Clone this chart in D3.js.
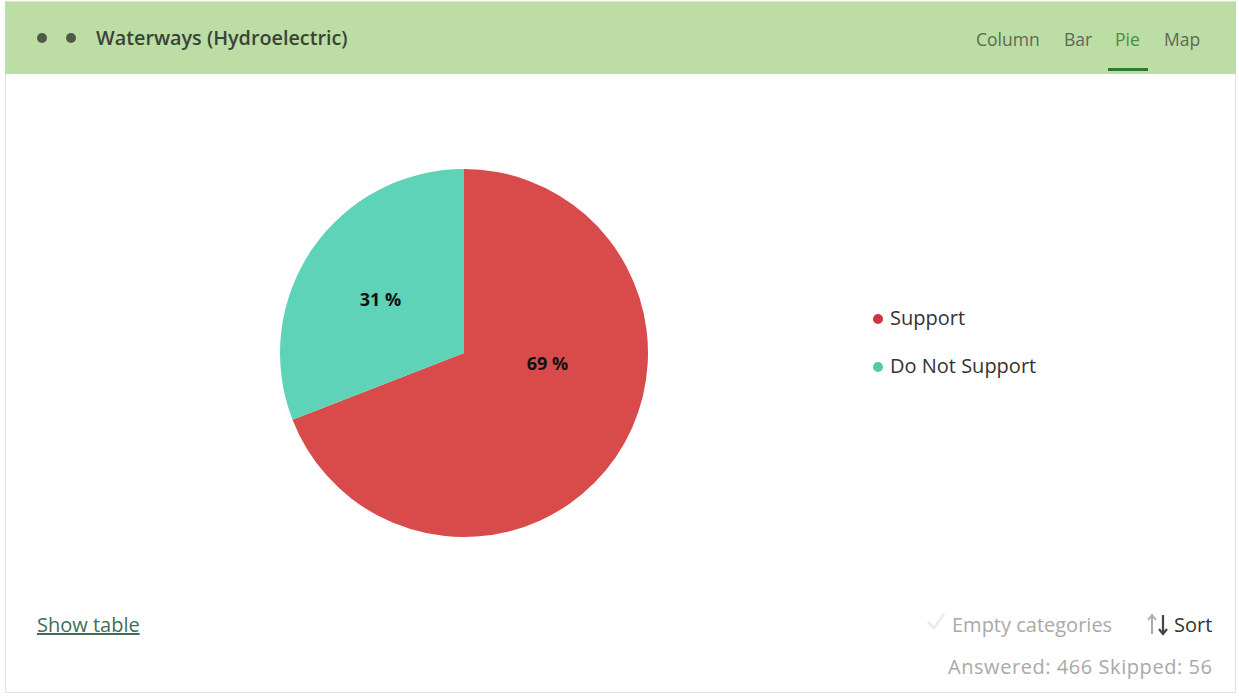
<!DOCTYPE html>
<html>
<head>
<meta charset="utf-8">
<script src="https://cdn.jsdelivr.net/npm/d3@7"></script>
<style>
body { margin:0; background:#fff; font-family:"Open Sans", "Noto Sans", sans-serif; }
</style>
</head>
<body>
<div id="chart"></div>
<script>
// data
var categories = ["Support", "Do Not Support"]
var counts = [322, 144]
var colors = ["#d94b4b", "#5fd3b8"]
var legendColors = ["#d0343f", "#4fcca0"]
var tabs = ["Column", "Bar", "Pie", "Map"]
var title = "Waterways (Hydroelectric)"
var answered = 466
var skipped = 56

var w = 1239
var h = 696

var svg = d3.select("#chart")
    .append("svg")
    .attr("width", w)
    .attr("height", h)

// card frame
svg.append("rect")
    .attr("x", 5.5).attr("y", 1.5)
    .attr("width", 1230).attr("height", 691)
    .attr("fill", "#fff")
    .attr("stroke", "#e2e2e2")

// header
svg.append("rect")
    .attr("x", 5).attr("y", 2)
    .attr("width", 1231).attr("height", 72)
    .attr("fill", "#bcdda4")

svg.selectAll(".hdot")
    .data([42, 71])
    .enter()
    .append("circle")
    .attr("cx", function(d){ return d })
    .attr("cy", 38)
    .attr("r", 5)
    .attr("fill", "#4e5a4a")

svg.append("text")
    .attr("x", 96).attr("y", 45)
    .attr("font-size", 19.8)
    .attr("font-weight", 600)
    .attr("fill", "#3b4238")
    .text(title)

var tabX = [976, 1064, 1115, 1164]
svg.selectAll(".tab")
    .data(tabs)
    .enter()
    .append("text")
    .attr("class", "tab")
    .attr("x", function(d,i){ return tabX[i] })
    .attr("y", 46)
    .attr("font-size", 17.5)
    .attr("fill", function(d){ return d == "Pie" ? "#4f8a3e" : "#5b6a55" })
    .text(function(d){ return d })

svg.append("rect")
    .attr("x", 1108).attr("y", 68)
    .attr("width", 40).attr("height", 3)
    .attr("fill", "#2f7a2f")

// pie
var cx = 464, cy = 353, R = 184

var pie = d3.pie().sort(null).value(function(d){ return d })
var arcs = pie(counts)
var arc = d3.arc().innerRadius(0).outerRadius(R)

var g = svg.append("g").attr("transform", "translate(" + cx + "," + cy + ")")

g.selectAll(".slice")
    .data(arcs)
    .enter()
    .append("path")
    .attr("class", "slice")
    .attr("d", arc)
    .attr("fill", function(d,i){ return colors[i] })

var total = d3.sum(counts)
g.selectAll(".plabel")
    .data(arcs)
    .enter()
    .append("text")
    .attr("class", "plabel")
    .attr("transform", function(d,i){
        var a, r
        if (i == 0) { a = d.startAngle + 0.39*(d.endAngle - d.startAngle); r = 84 }
        else { a = (d.startAngle + d.endAngle)/2 - 0.035; r = 99 }
        return "translate(" + (r*Math.sin(a)) + "," + (-r*Math.cos(a)) + ")"
    })
    .attr("text-anchor", "middle")
    .attr("dy", "0.35em")
    .attr("font-family", "Open Sans, sans-serif")
    .attr("font-size", 18)
    .attr("font-weight", 700)
    .attr("fill", "#111")
    .text(function(d){ return Math.round(d.value/total*100) + " %" })

// legend
var leg = svg.selectAll(".leg")
    .data(categories)
    .enter()
    .append("g")
    .attr("transform", function(d,i){ return "translate(878," + (319 + i*48) + ")" })

leg.append("circle")
    .attr("r", 5)
    .attr("fill", function(d,i){ return legendColors[i] })

leg.append("text")
    .attr("x", 12).attr("y", 6)
    .attr("font-size", 20)
    .attr("fill", "#333")
    .text(function(d){ return d })

// footer
svg.append("text")
    .attr("x", 37).attr("y", 632)
    .attr("font-size", 20)
    .attr("fill", "#3f6e55")
    .attr("text-decoration", "underline")
    .text("Show table")

svg.append("path")
    .attr("d", "M928,622 L934,628 L944,614")
    .attr("fill", "none")
    .attr("stroke", "#ececec")
    .attr("stroke-width", 3)

svg.append("text")
    .attr("x", 952).attr("y", 632)
    .attr("font-size", 20)
    .attr("fill", "#a9a9a9")
    .text("Empty categories")

// sort arrows
svg.append("path")
    .attr("d", "M1152,634 L1152,616 M1148,620 L1152,615 L1156,620")
    .attr("fill", "none")
    .attr("stroke", "#aaa")
    .attr("stroke-width", 2)
svg.append("path")
    .attr("d", "M1163,615 L1163,633 M1159,629 L1163,634 L1167,629")
    .attr("fill", "none")
    .attr("stroke", "#444")
    .attr("stroke-width", 2.2)

svg.append("text")
    .attr("x", 1174).attr("y", 632)
    .attr("font-size", 20)
    .attr("fill", "#333")
    .text("Sort")

svg.append("text")
    .attr("x", 1212).attr("y", 674)
    .attr("text-anchor", "end")
    .attr("font-size", 20)
    .attr("fill", "#a9a9a9")
    .attr("textLength", 264)
    .text("Answered: " + answered + "  Skipped: " + skipped)
</script>
</body>
</html>
